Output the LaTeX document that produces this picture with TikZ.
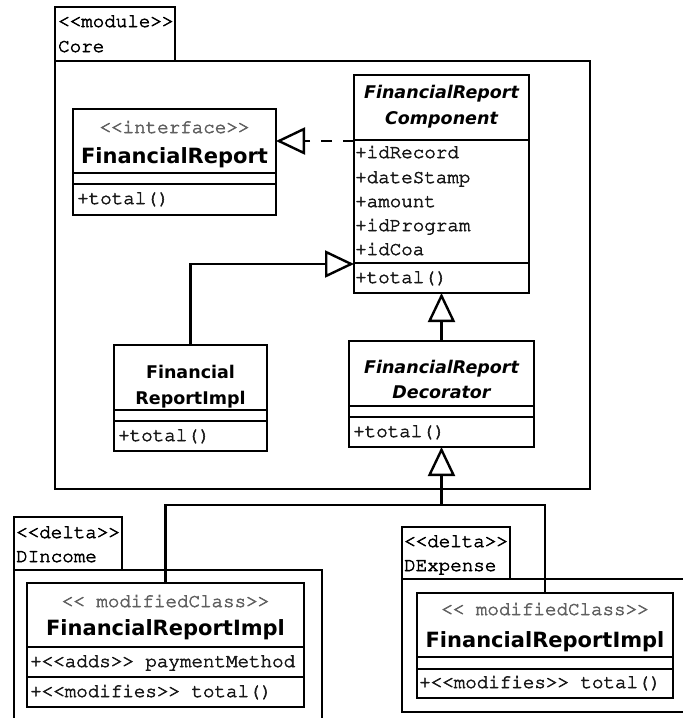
\documentclass[tikz,border=0pt]{standalone}
\usepackage[T1]{fontenc}
\usepackage{fontspec}
\setmainfont{DejaVu Sans}
\newcommand{\umlmono}{\fontencoding{T1}\fontfamily{pcr}\fontseries{m}\fontshape{n}}
% slightly heavier typewriter strokes: fill and stroke the glyph outlines
\newcommand{\heavytext}[1]{\special{pdf:literal 2 Tr 0.55 w}#1\special{pdf:literal 0 Tr}}
\usetikzlibrary{arrows.meta}

\tikzset{
  umlline/.style={line width=2.4pt, draw=black},
  umlbox/.style={umlline, rectangle, anchor=north west, inner sep=0pt, outer sep=0pt, fill=white},
  mono/.style={font=\umlmono\fontsize{19.2}{24}\selectfont, text=black!90, inner sep=0pt, anchor=base west},
  stereo/.style={mono, text=black!62, anchor=base},
  cname/.style={font=\bfseries\fontsize{21}{26}\selectfont, inner sep=0pt, anchor=base},
  iname/.style={font=\bfseries\fontsize{17.5}{26}\selectfont, inner sep=0pt, anchor=base},
  aname/.style={font=\bfseries\itshape\fontsize{17.5}{25}\selectfont, inner sep=0pt, anchor=base},
  gen/.style={umlline, -{Triangle[open, length=29pt, width=27pt]}},
  realize/.style={gen, dash pattern=on 11pt off 11pt},
  assoc/.style={umlline},
}

\begin{document}
\begin{tikzpicture}[x=1pt, y=-1pt]
\clip (0,0) rectangle (683,718);
\fill[white] (0,0) rectangle (683,718);

% ---------- module Core ----------
\node[umlbox, minimum width=535pt, minimum height=428pt] (core) at (55,61) {};
\node[umlbox, minimum width=120pt, minimum height=54pt] (coreTab) at (55,7) {};
\node[mono, text=black] (coreSt) at (58,27) {\heavytext{<{}<module>{}>}};
\node[mono, text=black] (coreNm) at (58,52) {\heavytext{Core}};

% ---------- delta DIncome ----------
\node[umlbox, minimum width=308pt, minimum height=160pt] (dinc) at (14,570) {};
\node[umlbox, minimum width=108pt, minimum height=53pt] (dincTab) at (14,517) {};
\node[mono, text=black] (dincSt) at (16,538) {\heavytext{<{}<delta>{}>}};
\node[mono, text=black] (dincNm) at (16,562) {\heavytext{DIncome}};

% ---------- delta DExpense ----------
\node[umlbox, minimum width=298pt, minimum height=133pt] (dexp) at (402,579) {};
\node[umlbox, minimum width=108pt, minimum height=52pt] (dexpTab) at (402,527) {};
\node[mono, text=black] (dexpSt) at (404,547) {\heavytext{<{}<delta>{}>}};
\node[mono, text=black] (dexpNm) at (404,571) {\heavytext{DExpense}};

% ---------- interface FinancialReport ----------
\node[umlbox, minimum width=203pt, minimum height=106pt] (fr) at (73,109) {};
\draw[umlline] (fr.west |- 0,173) -- (fr.east |- 0,173);
\draw[umlline] (fr.west |- 0,184) -- (fr.east |- 0,184);
\node[stereo] (frSt) at (174.5,133) {\heavytext{<{}<interface>{}>}};
\node[cname] (frNm) at (174.5,163) {FinancialReport};
\node[mono] (frOp) at (77,204) {\heavytext{+total()}};

% ---------- abstract FinancialReportComponent ----------
\node[umlbox, minimum width=175pt, minimum height=218pt] (comp) at (354,75) {};
\draw[umlline] (comp.west |- 0,140) -- (comp.east |- 0,140);
\draw[umlline] (comp.west |- 0,263) -- (comp.east |- 0,263);
\node[aname] (compNm1) at (441.5,98) {FinancialReport};
\node[aname] (compNm2) at (441.5,124) {Component};
\node[mono] (compA1) at (355,158) {\heavytext{+idRecord}};
\node[mono] (compA2) at (355,183) {\heavytext{+dateStamp}};
\node[mono] (compA3) at (355,207) {\heavytext{+amount}};
\node[mono] (compA4) at (355,231) {\heavytext{+idProgram}};
\node[mono] (compA5) at (355,255) {\heavytext{+idCoa}};
\node[mono] (compOp) at (355,283) {\heavytext{+total()}};

% ---------- FinancialReportImpl ----------
\node[umlbox, minimum width=153pt, minimum height=106pt] (impl) at (114,345) {};
\draw[umlline] (impl.west |- 0,410) -- (impl.east |- 0,410);
\draw[umlline] (impl.west |- 0,421) -- (impl.east |- 0,421);
\node[iname] (implNm1) at (190.5,378) {Financial};
\node[iname] (implNm2) at (190.5,404) {ReportImpl};
\node[mono] (implOp) at (118,441) {\heavytext{+total()}};

% ---------- abstract FinancialReportDecorator ----------
\node[umlbox, minimum width=185pt, minimum height=106pt] (dec) at (349,341) {};
\draw[umlline] (dec.west |- 0,406) -- (dec.east |- 0,406);
\draw[umlline] (dec.west |- 0,417) -- (dec.east |- 0,417);
\node[aname] (decNm1) at (441.5,373) {FinancialReport};
\node[aname] (decNm2) at (441.5,398) {Decorator};
\node[mono] (decOp) at (353,437) {\heavytext{+total()}};

% ---------- modified FinancialReportImpl in DIncome ----------
\node[umlbox, minimum width=277pt, minimum height=124pt] (incCls) at (27,583) {};
\draw[umlline] (incCls.west |- 0,647) -- (incCls.east |- 0,647);
\draw[umlline] (incCls.west |- 0,677) -- (incCls.east |- 0,677);
\node[stereo] (incSt) at (165.5,607) {\heavytext{<{}< modifiedClass>{}>}};
\node[cname] (incNm) at (165.5,635) {FinancialReportImpl};
\node[mono] (incAt) at (30,667) {\heavytext{+<{}<adds>{}> paymentMethod}};
\node[mono] (incOp) at (30,697) {\heavytext{+<{}<modifies>{}> total()}};

% ---------- modified FinancialReportImpl in DExpense ----------
\node[umlbox, minimum width=256pt, minimum height=105pt] (expCls) at (417,593) {};
\draw[umlline] (expCls.west |- 0,657) -- (expCls.east |- 0,657);
\draw[umlline] (expCls.west |- 0,669) -- (expCls.east |- 0,669);
\node[stereo] (expSt) at (545,615) {\heavytext{<{}< modifiedClass>{}>}};
\node[cname] (expNm) at (545,647) {FinancialReportImpl};
\node[mono] (expOp) at (419,688) {\heavytext{+<{}<modifies>{}> total()}};

% ---------- relations ----------
\coordinate (compSplit) at (354,141);
\coordinate (compOps) at (354,264);
\coordinate (join) at (441.5,505);

\draw[realize] (compSplit) -- (fr.east |- compSplit);
\draw[gen] (impl.north) |- (compOps);
\draw[gen] (dec.north) -- (comp.south);
\draw[assoc] (incCls.north) |- (expCls.north |- join) -- (expCls.north);
\draw[gen] (join) -- (dec.south);
\end{tikzpicture}
\end{document}
